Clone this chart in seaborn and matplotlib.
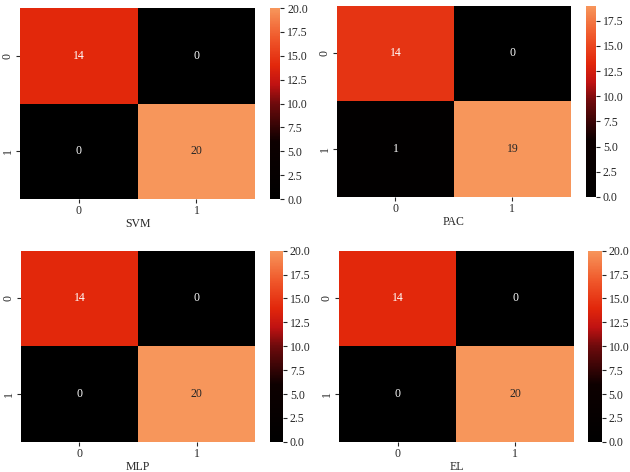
import numpy as np
import matplotlib
matplotlib.use("Agg")
import matplotlib.pyplot as plt
import seaborn as sns
from matplotlib.colors import LinearSegmentedColormap
from matplotlib.ticker import MultipleLocator, FormatStrFormatter

# confusion matrices per model
models = ["SVM", "PAC", "MLP", "EL"]
cm_svm = [[14, 0], [0, 20]]
cm_pac = [[14, 0], [1, 19]]
cm_mlp = [[14, 0], [0, 20]]
cm_el = [[14, 0], [0, 20]]
matrices = [cm_svm, cm_pac, cm_mlp, cm_el]
labels = ["0", "1"]

sns.set_style("ticks")
plt.rcParams['font.family'] = ['Liberation Serif', 'DejaVu Serif']
plt.rcParams['font.size'] = 8.5

cmap = LinearSegmentedColormap.from_list(
    "heat",
    [(0.0, "#000000"), (0.3, "#0d0000"), (0.5, "#6e0a0c"),
     (0.6, "#c01212"), (0.7, "#e2270b"), (0.85, "#f05a2c"), (1.0, "#f7965b")])

fig = plt.figure(figsize=(6.3, 4.72), dpi=100)

# (heatmap rect, colorbar rect) in figure fractions
rects = [
    ([0.032, 0.578, 0.373, 0.405], [0.429, 0.578, 0.016, 0.405]),
    ([0.535, 0.583, 0.371, 0.405], [0.930, 0.583, 0.016, 0.405]),
    ([0.033, 0.064, 0.372, 0.405], [0.429, 0.064, 0.020, 0.405]),
    ([0.538, 0.064, 0.373, 0.405], [0.934, 0.064, 0.021, 0.405]),
]

for name, cm, (r, cr) in zip(models, matrices, rects):
    ax = fig.add_axes(r)
    cax = fig.add_axes(cr)
    sns.heatmap(np.array(cm), annot=True, fmt="d", cmap=cmap, ax=ax, cbar_ax=cax,
                xticklabels=labels, yticklabels=labels, annot_kws={"size": 8.5})
    ax.set_xlabel(name, fontsize=8.5, labelpad=0.5)
    ax.tick_params(axis="both", labelsize=8.5, length=3, width=0.8, pad=1.5)
    ax.set_yticklabels(labels, rotation=90, va="center")
    cax.yaxis.set_major_locator(MultipleLocator(2.5))
    cax.yaxis.set_major_formatter(FormatStrFormatter("%.1f"))
    cax.tick_params(labelsize=8.5, length=3, width=0.8, pad=2)

plt.savefig("out.png", dpi=100)
